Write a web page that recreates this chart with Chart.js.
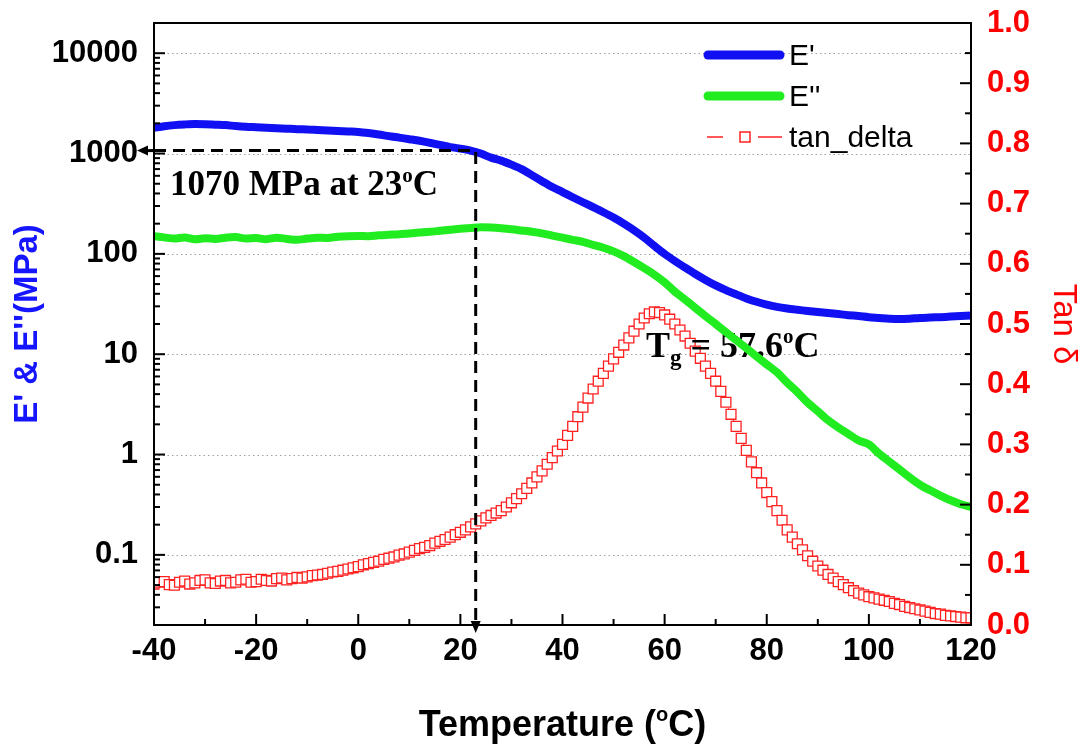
<!DOCTYPE html>
<html>
<head>
<meta charset="utf-8">
<script src="https://cdn.jsdelivr.net/npm/chart.js@4.4.1/dist/chart.umd.min.js"></script>
<style>
  html, body { margin: 0; padding: 0; background: #fff; }
  canvas { display: block; }
</style>
</head>
<body>
<canvas id="dmaChart" width="1087" height="746"></canvas>
<script>
// temperature grid for the moduli (every 2 degC)
const temps = [
  -40, -38, -36, -34, -32, -30, -28, -26, -24, -22,
  -20, -18, -16, -14, -12, -10, -8, -6, -4, -2,
  0, 2, 4, 6, 8, 10, 12, 14, 16, 18,
  20, 22, 24, 26, 28, 30, 32, 34, 36, 38,
  40, 42, 44, 46, 48, 50, 52, 54, 56, 58,
  60, 62, 64, 66, 68, 70, 72, 74, 76, 78,
  80, 82, 84, 86, 88, 90, 92, 94, 96, 98,
  100, 102, 104, 106, 108, 110, 112, 114, 116, 118,
  120
];
// E' (MPa)
const storageModulus = [
  1800, 1870, 1920, 1950, 1970, 1960, 1940, 1920, 1880, 1850,
  1830, 1810, 1790, 1770, 1750, 1740, 1720, 1700, 1680, 1660,
  1640, 1600, 1550, 1490, 1440, 1390, 1340, 1280, 1220, 1160,
  1120, 1070, 1000, 910, 850, 775, 700, 610, 530, 463,
  413, 367, 327, 292, 260, 230, 200, 172, 145, 120,
  100, 85, 73, 63, 55, 48.5, 43.5, 39.5, 36, 33.3,
  31.2, 29.6, 28.5, 27.7, 27, 26.3, 25.7, 25.1, 24.5, 24,
  23.4, 23, 22.6, 22.4, 22.6, 23, 23.2, 23.4, 23.7, 24,
  24.3
];
// E'' (MPa)
const lossModulus = [
  150, 146, 142, 146, 140, 143, 141, 145, 147, 142,
  144, 140, 145, 141, 138, 142, 145, 144, 148, 150,
  151, 150, 153, 155, 157, 160, 163, 166, 170, 174,
  178, 181, 184, 183, 180, 176, 171, 166, 160, 152,
  145, 138, 132, 123, 115, 106, 95, 83, 72, 62,
  52, 42, 35, 29, 24, 20, 16.6, 13.8, 11.5, 9.5,
  7.9, 6.6, 5.2, 4.2, 3.3, 2.7, 2.2, 1.86, 1.6, 1.38,
  1.26, 1.02, 0.85, 0.71, 0.59, 0.5, 0.44, 0.39, 0.35, 0.32,
  0.30
];
// tan delta, every 1 degC
const tanTemps = [
  -40, -39, -38, -37, -36, -35, -34, -33, -32, -31,
  -30, -29, -28, -27, -26, -25, -24, -23, -22, -21,
  -20, -19, -18, -17, -16, -15, -14, -13, -12, -11,
  -10, -9, -8, -7, -6, -5, -4, -3, -2, -1,
  0, 1, 2, 3, 4, 5, 6, 7, 8, 9,
  10, 11, 12, 13, 14, 15, 16, 17, 18, 19,
  20, 21, 22, 23, 24, 25, 26, 27, 28, 29,
  30, 31, 32, 33, 34, 35, 36, 37, 38, 39,
  40, 41, 42, 43, 44, 45, 46, 47, 48, 49,
  50, 51, 52, 53, 54, 55, 56, 57, 58, 59,
  60, 61, 62, 63, 64, 65, 66, 67, 68, 69,
  70, 71, 72, 73, 74, 75, 76, 77, 78, 79,
  80, 81, 82, 83, 84, 85, 86, 87, 88, 89,
  90, 91, 92, 93, 94, 95, 96, 97, 98, 99,
  100, 101, 102, 103, 104, 105, 106, 107, 108, 109,
  110, 111, 112, 113, 114, 115, 116, 117, 118, 119,
  120
];
const tanDelta = [
  0.068, 0.071, 0.072, 0.067, 0.066, 0.071, 0.073, 0.068, 0.070, 0.074,
  0.075, 0.070, 0.069, 0.073, 0.074, 0.070, 0.071, 0.075, 0.076, 0.071,
  0.072, 0.076, 0.074, 0.073, 0.077, 0.078, 0.075, 0.077, 0.079, 0.078,
  0.080, 0.082, 0.083, 0.084, 0.086, 0.088, 0.089, 0.091, 0.093, 0.095,
  0.097, 0.100, 0.102, 0.104, 0.106, 0.109, 0.111, 0.113, 0.116, 0.118,
  0.121, 0.124, 0.127, 0.129, 0.132, 0.136, 0.139, 0.142, 0.146, 0.150,
  0.154, 0.158, 0.163, 0.168, 0.173, 0.178, 0.182, 0.186, 0.190, 0.196,
  0.203, 0.210, 0.218, 0.227, 0.236, 0.246, 0.256, 0.267, 0.278, 0.289,
  0.300, 0.315, 0.330, 0.346, 0.362, 0.377, 0.392, 0.405, 0.418, 0.430,
  0.442, 0.453, 0.465, 0.477, 0.488, 0.500, 0.510, 0.517, 0.520, 0.519,
  0.515, 0.508, 0.500, 0.490, 0.480, 0.468, 0.455, 0.443, 0.430, 0.418,
  0.405, 0.388, 0.370, 0.350, 0.330, 0.310, 0.290, 0.271, 0.253, 0.236,
  0.220, 0.205, 0.190, 0.174, 0.158, 0.146, 0.135, 0.125, 0.115, 0.106,
  0.098, 0.091, 0.084, 0.078, 0.072, 0.067, 0.062, 0.057, 0.053, 0.050,
  0.047, 0.045, 0.043, 0.041, 0.039, 0.036, 0.034, 0.031, 0.029, 0.027,
  0.025, 0.023, 0.021, 0.019, 0.018, 0.016, 0.015, 0.014, 0.013, 0.012,
  0.012
];
const logTicks = [0.1, 1, 10, 100, 1000, 10000];
const markTemp = 23;
const markModulus = 1070;
const peakTemp = 57.6;
const modMin = 0.02, modMax = 20000;

const sans = "'Liberation Sans', Arial, sans-serif";
const serif = "'Liberation Serif', 'Times New Roman', serif";
const blue = "#1010f2", green = "#20ec20", red = "#ff2020";

const toPoints = (xs, ys) => xs.map((x, i) => ({x: x, y: ys[i]}));

// draw text runs with sub/superscripts
const drawRuns = (ctx, runs, x, y, center) => {
    let w = 0;
    runs.forEach(r => { ctx.font = r.font; w += ctx.measureText(r.text).width; });
    let cx = center ? x - w / 2 : x;
    runs.forEach(r => {
        ctx.font = r.font;
        ctx.fillText(r.text, cx, y - (r.rise || 0));
        cx += ctx.measureText(r.text).width;
    });
};

// no label overflow padding, the plot box is fixed
const noPad = s => { s.paddingTop = 0; s.paddingBottom = 0; s.paddingLeft = 0; s.paddingRight = 0; };

const gridLines = {
    id: "gridLines",
    beforeDatasetsDraw(chart) {
        const {ctx, chartArea: a, scales: {y}} = chart;
        ctx.save();
        ctx.strokeStyle = "#a0a0a0";
        ctx.lineWidth = 1;
        ctx.setLineDash([1.5, 3]);
        logTicks.forEach(v => {
            const py = Math.round(y.getPixelForValue(v)) + 0.5;
            ctx.beginPath();
            ctx.moveTo(a.left, py);
            ctx.lineTo(a.right, py);
            ctx.stroke();
        });
        ctx.restore();
    },
    // Tg label sits above the tan delta squares but under the moduli lines
    afterDatasetDraw(chart, args) {
        if (args.index !== 2) return;
        const ctx = chart.ctx;
        ctx.save();
        ctx.fillStyle = "#000";
        ctx.textBaseline = "alphabetic";
        ctx.textAlign = "left";
        const tg = "bold 36px " + serif;
        drawRuns(ctx, [
            {text: "T", font: tg},
            {text: "g", font: "bold 23px " + serif, rise: -8},
            {text: " = " + peakTemp, font: tg},
            {text: "o", font: "bold 21px " + serif, rise: 14},
            {text: "C", font: tg}
        ], 646, 357);
        ctx.restore();
    }
};

const frameAndNotes = {
    id: "frameAndNotes",
    afterDatasetsDraw(chart) {
        const {ctx, chartArea: a, scales: {x, y, y2}} = chart;
        ctx.save();
        ctx.strokeStyle = "#000";
        ctx.lineWidth = 2;
        ctx.strokeRect(a.left, a.top, a.right - a.left, a.bottom - a.top);

        const tick = (x1, y1, x2, y2p) => {
            ctx.beginPath();
            ctx.moveTo(x1, y1);
            ctx.lineTo(x2, y2p);
            ctx.stroke();
        };
        // left log ticks
        logTicks.forEach(v => {
            const py = y.getPixelForValue(v);
            tick(a.left, py, a.left + 11, py);
        });
        [0.01, 0.1, 1, 10, 100, 1000, 10000].forEach(d => {
            for (let k = 2; k <= 9; k++) {
                const v = d * k;
                if (v < modMin || v > modMax) continue;
                const py = y.getPixelForValue(v);
                tick(a.left, py, a.left + 6, py);
            }
        });
        // bottom ticks
        const xt = x.ticks.map(t => t.value);
        xt.forEach((v, i) => {
            const px = x.getPixelForValue(v);
            tick(px, a.bottom, px, a.bottom - 11);
            if (i > 0) {
                const pm = x.getPixelForValue((v + xt[i - 1]) / 2);
                tick(pm, a.bottom, pm, a.bottom - 6);
            }
        });
        // right ticks
        const rt = y2.ticks.map(t => t.value);
        rt.forEach((v, i) => {
            const py = y2.getPixelForValue(v);
            tick(a.right, py, a.right - 11, py);
            if (i > 0) {
                const pm = y2.getPixelForValue((v + rt[i - 1]) / 2);
                tick(a.right, pm, a.right - 6, pm);
            }
        });

        // arrow heads of the marker lines
        const mx = x.getPixelForValue(markTemp);
        const my = y.getPixelForValue(markModulus);
        ctx.fillStyle = "#000";
        ctx.lineWidth = 3;
        tick(a.left - 6, my, a.left, my);
        ctx.beginPath();
        ctx.moveTo(a.left - 17, my);
        ctx.lineTo(a.left - 6, my - 5);
        ctx.lineTo(a.left - 6, my + 5);
        ctx.closePath();
        ctx.fill();
        ctx.beginPath();
        ctx.moveTo(mx, a.bottom + 8);
        ctx.lineTo(mx - 5, a.bottom - 4);
        ctx.lineTo(mx + 5, a.bottom - 4);
        ctx.closePath();
        ctx.fill();

        // annotation at the marker
        ctx.textBaseline = "alphabetic";
        ctx.textAlign = "left";
        const big = "bold 35px " + serif;
        drawRuns(ctx, [
            {text: markModulus + " MPa at " + markTemp, font: big},
            {text: "o", font: "bold 21px " + serif, rise: 13},
            {text: "C", font: big}
        ], a.left + 16, 195);

        // x axis title
        ctx.fillStyle = "#000";
        const xt36 = "bold 36px " + sans;
        drawRuns(ctx, [
            {text: "Temperature (", font: xt36},
            {text: "o", font: "bold 20px " + sans, rise: 15},
            {text: "C)", font: xt36}
        ], (a.left + a.right) / 2, 736, true);

        // legend
        const ds = chart.data.datasets;
        ctx.textBaseline = "middle";
        ctx.font = "30px " + sans;
        [ds[0], ds[1], ds[2]].forEach((d, i) => {
            const ly = 55 + i * 41;
            ctx.strokeStyle = d.borderColor;
            if (d.pointStyle === "rect") {
                ctx.lineWidth = 1.5;
                tick(707, ly, 723, ly);
                tick(758, ly, 782, ly);
                ctx.strokeRect(740, ly - 5, 10, 10);
            } else {
                ctx.lineWidth = 9;
                ctx.lineCap = "round";
                tick(708, ly, 780, ly);
                ctx.lineCap = "butt";
            }
            ctx.fillStyle = "#000";
            ctx.fillText(d.label, 789, ly + 2);
        });
        ctx.restore();
    }
};

new Chart(document.getElementById("dmaChart"), {
    type: "line",
    data: {
        datasets: [
            {
                label: "E'",
                data: toPoints(temps, storageModulus),
                yAxisID: "y",
                borderColor: blue,
                borderWidth: 8,
                pointRadius: 0,
                tension: 0.3,
                order: 1
            },
            {
                label: "E''",
                data: toPoints(temps, lossModulus),
                yAxisID: "y",
                borderColor: green,
                borderWidth: 8,
                pointRadius: 0,
                tension: 0.3,
                order: 2
            },
            {
                label: "tan_delta",
                data: toPoints(tanTemps, tanDelta),
                yAxisID: "y2",
                showLine: true,
                borderColor: red,
                borderWidth: 1,
                borderDash: [5, 4],
                pointStyle: "rect",
                pointRadius: 7,
                pointBorderWidth: 1.3,
                pointBorderColor: red,
                pointBackgroundColor: "#ffffff",
                order: 3
            },
            {
                label: "marker",
                data: [
                    {x: -40, y: markModulus},
                    {x: markTemp, y: markModulus},
                    {x: markTemp, y: modMin}
                ],
                yAxisID: "y",
                borderColor: "#000",
                borderWidth: 3,
                borderDash: [12, 7],
                pointRadius: 0,
                tension: 0,
                order: 0
            }
        ]
    },
    options: {
        responsive: false,
        animation: false,
        layout: {padding: {top: 23, left: 0, right: 0, bottom: 0}},
        plugins: {
            legend: {display: false},
            tooltip: {enabled: false}
        },
        scales: {
            x: {
                type: "linear",
                min: -40,
                max: 120,
                ticks: {
                    stepSize: 20,
                    color: "#000",
                    padding: 8,
                    maxRotation: 0,
                    font: {family: sans, size: 31, weight: "bold"}
                },
                grid: {display: false, drawTicks: false},
                border: {display: false},
                afterFit: s => { s.height = 121; noPad(s); }
            },
            y: {
                type: "logarithmic",
                position: "left",
                min: modMin,
                max: modMax,
                afterBuildTicks: s => { s.ticks = logTicks.map(v => ({value: v})); },
                ticks: {
                    color: "#000",
                    padding: 16,
                    autoSkip: false,
                    callback: v => String(v),
                    font: {family: sans, size: 31, weight: "bold"}
                },
                grid: {display: false, drawTicks: false},
                border: {display: false},
                title: {
                    display: true,
                    text: "E' & E''(MPa)",
                    color: "#1515ff",
                    padding: {top: 8, bottom: 0},
                    font: {family: sans, size: 33, weight: "bold"}
                },
                afterFit: s => { s.width = 154; noPad(s); }
            },
            y2: {
                type: "linear",
                position: "right",
                min: 0,
                max: 1,
                ticks: {
                    stepSize: 0.1,
                    color: "#ff0000",
                    padding: 16,
                    callback: v => v.toFixed(1),
                    font: {family: sans, size: 31, weight: "bold"}
                },
                grid: {display: false, drawTicks: false},
                border: {display: false},
                title: {
                    display: true,
                    text: "Tan δ",
                    color: "#ff0000",
                    padding: {top: 4, bottom: 0},
                    font: {family: sans, size: 33}
                },
                afterFit: s => { s.width = 116; noPad(s); }
            }
        }
    },
    plugins: [gridLines, frameAndNotes]
});
</script>
</body>
</html>
